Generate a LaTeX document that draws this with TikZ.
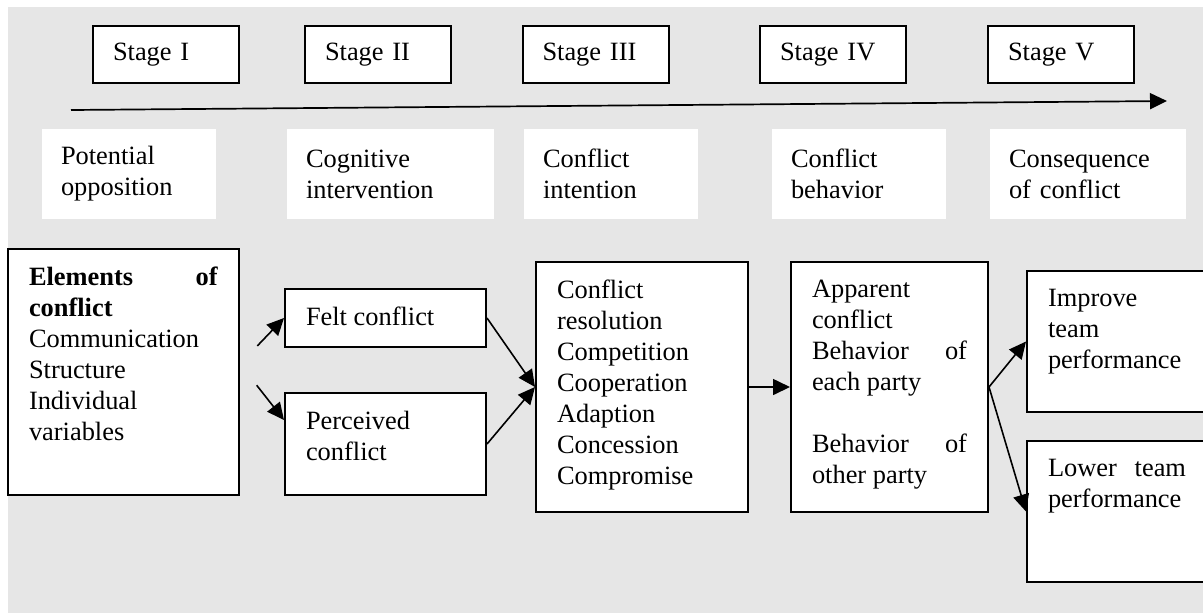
\documentclass[tikz,border=0pt]{standalone}
\usepackage{fontspec}
\setmainfont{Liberation Serif}
\usetikzlibrary{arrows.meta}
\definecolor{bggray}{HTML}{E6E6E6}
\newcommand{\toptext}[3]{\parbox[c][#2][t]{#1}{\raggedright #3}}

\begin{document}
\begin{tikzpicture}[x=0.5pt,y=-0.5pt,
  every node/.style={font=\fontsize{13.2pt}{15.5pt}\selectfont},
  stage/.style={draw, rectangle, line width=1pt, fill=white, text width=53pt, inner xsep=10pt, minimum height=28.5pt, align=left},
  phase/.style={rectangle, fill=white, inner xsep=9.5pt, minimum height=45pt, align=left},
  box/.style={draw, rectangle, line width=1pt, fill=white, inner xsep=10.5pt, inner ysep=9pt},
  >={Triangle[length=8.5pt,width=8pt]}]
\path[clip, use as bounding box] (0,0) rectangle (1203,612);
\fill[bggray] (8,7) rectangle (1220,630);
% stages
\node[stage] (s1) at (166,54.5) {Stage I};
\node[stage] (s2) at (378,54.5) {Stage II};
\node[stage] (s3) at (595.5,54.5) {Stage III};
\node[stage] (s4) at (833,54.5) {Stage IV};
\node[stage] (s5) at (1061,54.5) {Stage V};
\coordinate (t0) at (71,110);
\coordinate (t1) at (1167,101);
\path[draw,line width=0.85pt,->] (t0) -- (t1);
% phases
\node[phase, text width=68pt] (p1) at (129,174) {Potential\\opposition};
\node[phase, text width=84.5pt] (p2) at (390.5,174) {Cognitive\\intervention};
\node[phase, text width=68pt] (p3) at (611,174) {Conflict\\intention};
\node[phase, text width=68pt] (p4) at (859,174) {Conflict\\behavior};
\node[phase, text width=79pt] (p5) at (1088,174) {Consequence\\of conflict};
% process
\node[box] (elem) at (123.5,372) {\toptext{94.5pt}{105pt}{\textbf{Elements\hfill of}\\ \textbf{conflict}\\ Communication\\ Structure\\ Individual\\ variables}};
\node[box] (felt) at (385.5,318) {\toptext{79.5pt}{11pt}{Felt conflict}};
\node[box] (perc) at (385.5,444) {\toptext{79.5pt}{33pt}{Perceived\\ conflict}};
\node[box] (res) at (642,387) {\toptext{85pt}{107pt}{Conflict\\ resolution\\ Competition\\ Cooperation\\ Adaption\\ Concession\\ Compromise}};
\node[box] (app) at (889.5,387) {\toptext{77.5pt}{107pt}{Apparent\\ conflict\\ Behavior\hfill of\\ each party\\[15.5pt] Behavior\hfill of\\ other party}};
\node[box] (imp) at (1117,341.5) {\toptext{69pt}{52.5pt}{Improve\\ team\\ performance}};
\node[box] (low) at (1117,511.5) {\toptext{69pt}{52.5pt}{Lower\hfill team\\ performance}};
\path[draw,line width=0.8pt,->,shorten <=12.5pt] ([yshift=4pt]elem.east) -- (felt.west);
\path[draw,line width=0.8pt,->,shorten <=13.5pt] ([yshift=4pt]elem.east) -- ([yshift=12pt]perc.west);
\path[draw,line width=0.8pt,->] (felt.east) -- (res.west);
\path[draw,line width=0.8pt,->] (perc.east) -- (res.west);
\path[draw,line width=0.8pt,->] (res.east) -- (app.west);
\path[draw,line width=0.8pt,->] (app.east) -- (imp.west);
\path[draw,line width=0.8pt,->] (app.east) -- (low.west);
\end{tikzpicture}
\end{document}
